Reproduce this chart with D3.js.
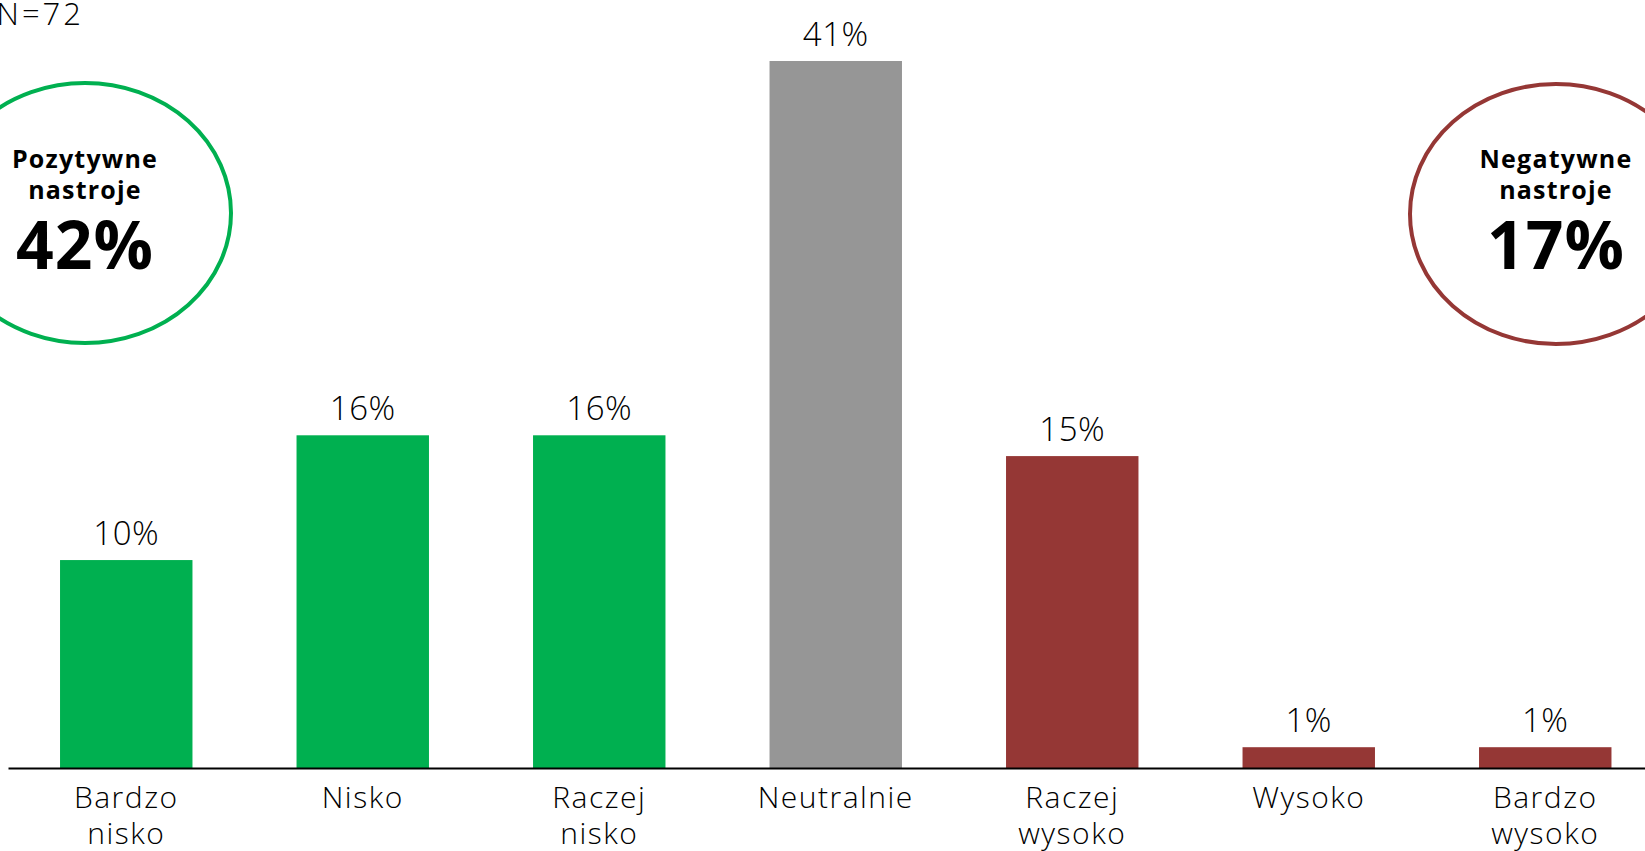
<!DOCTYPE html>
<html><head><meta charset="utf-8">
<script src="https://cdn.jsdelivr.net/npm/d3@7"></script>
<style>
html,body{margin:0;padding:0;background:#fff;overflow:hidden}
svg{display:block}
</style></head>
<body>
<svg id="chart" width="1645" height="851"></svg>
<script>
const categories = [["Bardzo","nisko"],["Nisko"],["Raczej","nisko"],["Neutralnie"],["Raczej","wysoko"],["Wysoko"],["Bardzo","wysoko"]];
const values = [10, 16, 16, 41, 15, 1, 1];
const valueLabels = ["10%","16%","16%","41%","15%","1%","1%"];
const groups = ["pos","pos","pos","neu","neg","neg","neg"];
const groupColors = {pos:"#00B050", neu:"#969696", neg:"#953735"};
const summaries = [
  {lines:["Pozytywne","nastroje"], value:"42%", color:"#00B050"},
  {lines:["Negatywne","nastroje"], value:"17%", color:"#953735"}
];
const sampleLabel = "N=72";

const svg = d3.select("#chart");
const FONT = "'Open Sans', 'Noto Sans', sans-serif";

const x = d3.scaleBand().domain(d3.range(values.length)).range([8, 1663.5]).paddingInner(0.44).paddingOuter(0.22);
const y = d3.scaleLinear().domain([0, 34]).range([768, 61]).clamp(true);

// bars
svg.append("g").selectAll("rect").data(values).join("rect")
  .attr("x", (d,i)=>x(i))
  .attr("y", d=>y(d))
  .attr("width", x.bandwidth())
  .attr("height", d=>y(0)-y(d))
  .attr("fill", (d,i)=>groupColors[groups[i]]);

// value labels
svg.append("g").selectAll("text").data(values).join("text")
  .attr("x", (d,i)=>x(i)+x.bandwidth()/2)
  .attr("y", d=>y(d)-15)
  .attr("text-anchor","middle")
  .attr("font-family", FONT).attr("font-weight",300)
  .attr("font-size", 33).attr("letter-spacing",0.5).attr("fill","#000")
  .text((d,i)=>valueLabels[i]);

// axis
const axis = svg.append("g").attr("transform",`translate(0,${y(0)})`)
  .call(d3.axisBottom(x).tickSize(0).tickFormat(""));
axis.select(".domain").attr("stroke","#000").attr("stroke-width",2);

const catG = svg.append("g");
categories.forEach((lines,i)=>{
  const cx = x(i)+x.bandwidth()/2;
  const t = catG.append("text")
    .attr("x", cx)
    .attr("y", 808)
    .attr("text-anchor","middle")
    .attr("font-family", FONT).attr("font-weight",300)
    .attr("font-size", 30).attr("letter-spacing",1.5).attr("fill","#000");
  lines.forEach((l,j)=>t.append("tspan").attr("x", cx).attr("dy", j===0?0:36).text(l));
});

// N label
svg.append("text").attr("x", 84).attr("y", 25).attr("text-anchor","end")
  .attr("font-family", FONT).attr("font-weight",300).attr("font-size",31).attr("letter-spacing",3).text(sampleLabel);

// summary ellipses
const centers = [[85,213],[1556,214]];
summaries.forEach((s,i)=>{
  const [cx,cy] = centers[i];
  svg.append("ellipse").attr("cx",cx).attr("cy",cy).attr("rx",146).attr("ry",130)
    .attr("fill","none").attr("stroke",s.color).attr("stroke-width",4);
  svg.append("text").attr("x",cx).attr("y",168).attr("text-anchor","middle")
    .attr("font-family",FONT).attr("font-weight",700).attr("font-size",25).attr("letter-spacing",1.2).text(s.lines[0]);
  svg.append("text").attr("x",cx).attr("y",199).attr("text-anchor","middle")
    .attr("font-family",FONT).attr("font-weight",700).attr("font-size",25).attr("letter-spacing",1.2).text(s.lines[1]);
  svg.append("text").attr("x",cx).attr("y",269).attr("text-anchor","middle")
    .attr("font-family",FONT).attr("font-weight",700).attr("font-size",66).attr("letter-spacing",1).text(s.value);
});
</script>
</body></html>
